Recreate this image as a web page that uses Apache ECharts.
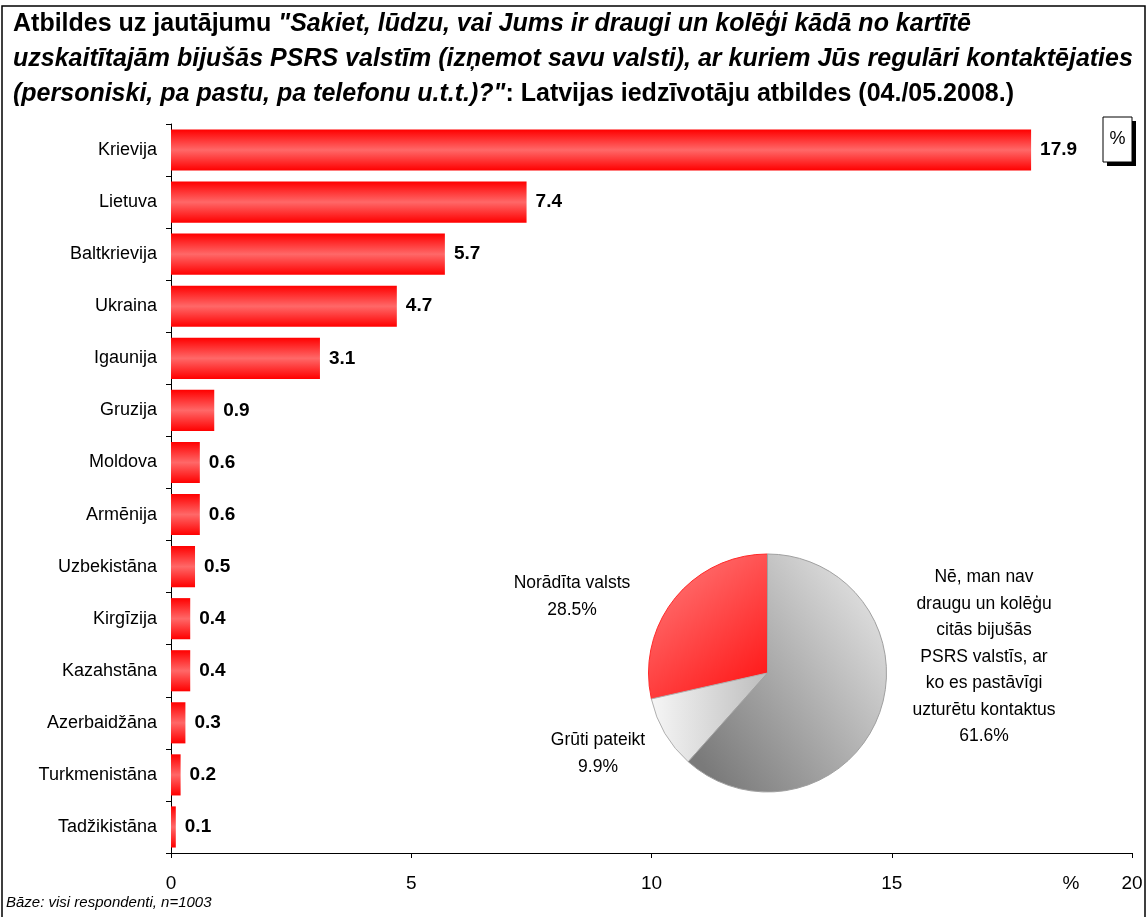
<!DOCTYPE html>
<html>
<head>
<meta charset="utf-8">
<script src="https://cdn.jsdelivr.net/npm/echarts@6/dist/echarts.min.js"></script>
<style>html,body{margin:0;padding:0;background:#fff;}#c{width:1148px;height:917px;}</style>
</head>
<body>
<div id="c"></div>
<script>
var categories = ['Krievija','Lietuva','Baltkrievija','Ukraina','Igaunija','Gruzija','Moldova','Armēnija','Uzbekistāna','Kirgīzija','Kazahstāna','Azerbaidžāna','Turkmenistāna','Tadžikistāna'];
var values = [17.9,7.4,5.7,4.7,3.1,0.9,0.6,0.6,0.5,0.4,0.4,0.3,0.2,0.1];
var pieNames = ['Norādīta valsts','Grūti pateikt','Nē, man nav\ndraugu un kolēģu\ncitās bijušās\nPSRS valstīs, ar\nko es pastāvīgi\nuzturētu kontaktus'];
var pieValues = [28.5,9.9,61.6];
var xTicks = [0,5,10,15,20];

var F = '"Liberation Sans", Arial, sans-serif';
var chart = echarts.init(document.getElementById('c'));

var pieColors = [
  new echarts.graphic.LinearGradient(0,0,1,1,[{offset:0,color:'#ff8080'},{offset:1,color:'#ff0f0f'}]),
  new echarts.graphic.LinearGradient(0,0.5,1,0.5,[{offset:0,color:'#f6f6f6'},{offset:1,color:'#bdbdbd'}]),
  new echarts.graphic.LinearGradient(0,0.8,1,0.2,[{offset:0,color:'#7a7a7a'},{offset:1,color:'#e2e2e2'}])
];
var pieBorders = ['#ff2a2a','#b0b0b0','#a0a0a0'];

var pieLabelPos = [[572,583,'center'],[598,740,'center'],[984,577,'center']];
var graphics = [
  {type:'rect', shape:{x:2,y:6,width:1143,height:930}, style:{fill:'none',stroke:'#000',lineWidth:1.5}, z:0},
  {type:'rect', shape:{x:1107,y:121,width:29,height:45}, style:{fill:'#000'}},
  {type:'rect', shape:{x:1103,y:117,width:29,height:45}, style:{fill:'#fff',stroke:'#000',lineWidth:1}},
  {type:'text', x:1117.5, y:139.5, style:{text:'%', font:'18px '+F, fill:'#000', textAlign:'center', textVerticalAlign:'middle'}},
  {type:'text', x:1071, y:884, style:{text:'%', font:'19px '+F, fill:'#000', textAlign:'center', textVerticalAlign:'middle'}},
  {type:'text', x:6, y:903, style:{text:'Bāze: visi respondenti, n=1003', font:'italic 15px '+F, fill:'#000', textAlign:'left', textVerticalAlign:'middle'}}
];
pieNames.forEach(function(n,i){
  var p = pieLabelPos[i];
  graphics.push({type:'text', x:p[0], y:p[1]-13, style:{text:n+'\n'+pieValues[i].toFixed(1)+'%', font:'17.5px '+F, lineHeight:26.5, fill:'#000', textAlign:p[2], textVerticalAlign:'top'}});
});

chart.setOption({
  backgroundColor:'#fff',
  animation:false,
  title:{
    left:8, top:2,
    text:'{b|Atbildes uz jautājumu }{bi|"Sakiet, lūdzu, vai Jums ir draugi un kolēģi kādā no kartītē}\n{bi|uzskaitītajām bijušās PSRS valstīm (izņemot savu valsti), ar kuriem Jūs regulāri kontaktējaties}\n{bi|(personiski, pa pastu, pa telefonu u.t.t.)?"}{b|: Latvijas iedzīvotāju atbildes (04./05.2008.)}',
    textStyle:{
      rich:{
        b:{fontFamily:F, fontWeight:'bold', fontSize:25, lineHeight:35, color:'#000'},
        bi:{fontFamily:F, fontWeight:'bold', fontStyle:'italic', fontSize:25, lineHeight:35, color:'#000'}
      }
    }
  },
  grid:{left:171, right:16, top:124, bottom:64, containLabel:false},
  xAxis:{
    type:'value', min:0, max:20, interval:5,
    axisLine:{show:true, lineStyle:{color:'#000', width:1}},
    axisTick:{show:true, length:5, lineStyle:{color:'#000'}},
    splitLine:{show:false},
    axisLabel:{fontFamily:F, fontSize:19, color:'#000', margin:21}
  },
  yAxis:{
    type:'category', data:categories, inverse:true,
    axisLine:{show:true, lineStyle:{color:'#000', width:1}},
    axisTick:{show:true, length:5, lineStyle:{color:'#000'}},
    axisLabel:{fontFamily:F, fontSize:18, color:'#000', margin:14}
  },
  series:[
    {
      type:'bar', data:values, barCategoryGap:'21%',
      itemStyle:{color:new echarts.graphic.LinearGradient(0,0,0,1,[{offset:0,color:'#ff0000'},{offset:0.5,color:'#ff6868'},{offset:1,color:'#ff0000'}])},
      label:{show:true, position:'right', distance:9, fontFamily:F, fontWeight:'bold', fontSize:19, color:'#000', formatter:function(p){return p.value.toFixed(1);}}
    },
    {
      type:'pie', center:[767.5,673], radius:119, startAngle:90, clockwise:false,
      label:{show:false}, labelLine:{show:false},
      emphasis:{disabled:true},
      data:pieValues.map(function(v,i){return {value:v, name:pieNames[i], itemStyle:{color:pieColors[i], borderColor:pieBorders[i], borderWidth:1}};})
    }
  ],
  graphic:graphics
});
</script>
</body>
</html>
